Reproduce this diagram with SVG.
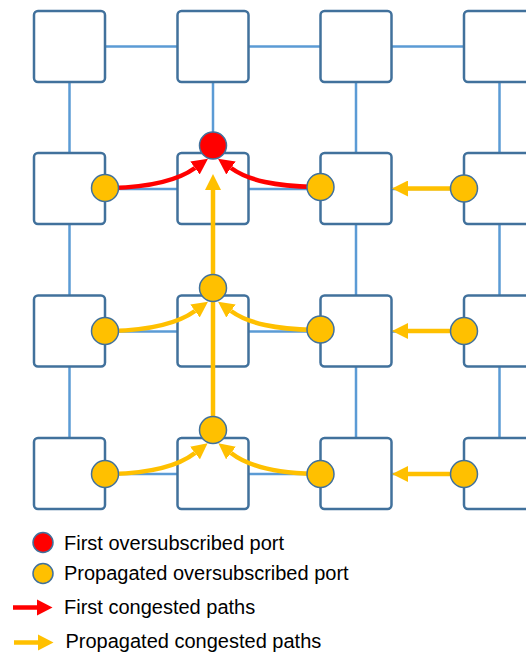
<svg xmlns="http://www.w3.org/2000/svg" width="526" height="654" viewBox="0 0 526 654">
  <style>
    .box { fill: #ffffff; stroke: #41719C; stroke-width: 2.5; }
    .link { stroke: #5B9BD5; stroke-width: 2.5; fill: none; }
    .port-y { fill: #FFC000; stroke: #41719C; stroke-width: 1.5; }
    .port-r { fill: #FF0000; stroke: #41719C; stroke-width: 1.5; }
    .path-r { stroke: #FF0000; stroke-width: 4.5; fill: none; }
    .path-y { stroke: #FFC000; stroke-width: 4.5; fill: none; }
    .head-r { fill: #FF0000; }
    .head-y { fill: #FFC000; }
    .label { font-family: "Liberation Sans", Arial, sans-serif; font-size: 20px; fill: #000000; }
  </style>
  <defs>
    <marker id="arrow-r" markerUnits="userSpaceOnUse" viewBox="0 0 16 16" refX="0" refY="8" markerWidth="16" markerHeight="16" orient="auto">
      <path class="head-r" d="M0,0 L16,8 L0,16 Z"/>
    </marker>
    <marker id="arrow-y" markerUnits="userSpaceOnUse" viewBox="0 0 16 16" refX="0" refY="8" markerWidth="16" markerHeight="16" orient="auto">
      <path class="head-y" d="M0,0 L16,8 L0,16 Z"/>
    </marker>
  </defs>

  <!-- mesh links -->
  <g id="links">
    <line class="link" x1="105" y1="46.5" x2="178" y2="46.5"/>
    <line class="link" x1="248" y1="46.5" x2="321" y2="46.5"/>
    <line class="link" x1="391" y1="46.5" x2="465" y2="46.5"/>
    <line class="link" x1="105" y1="189" x2="178" y2="189"/>
    <line class="link" x1="248" y1="189" x2="321" y2="189"/>
    <line class="link" x1="391" y1="189" x2="465" y2="189"/>
    <line class="link" x1="105" y1="331.5" x2="178" y2="331.5"/>
    <line class="link" x1="248" y1="331.5" x2="321" y2="331.5"/>
    <line class="link" x1="391" y1="331.5" x2="465" y2="331.5"/>
    <line class="link" x1="105" y1="474" x2="178" y2="474"/>
    <line class="link" x1="248" y1="474" x2="321" y2="474"/>
    <line class="link" x1="391" y1="474" x2="465" y2="474"/>
    <line class="link" x1="69.5" y1="82" x2="69.5" y2="154"/>
    <line class="link" x1="213" y1="82" x2="213" y2="154"/>
    <line class="link" x1="356" y1="82" x2="356" y2="154"/>
    <line class="link" x1="499.5" y1="82" x2="499.5" y2="154"/>
    <line class="link" x1="69.5" y1="224" x2="69.5" y2="296"/>
    <line class="link" x1="213" y1="224" x2="213" y2="296"/>
    <line class="link" x1="356" y1="224" x2="356" y2="296"/>
    <line class="link" x1="499.5" y1="224" x2="499.5" y2="296"/>
    <line class="link" x1="69.5" y1="367" x2="69.5" y2="439"/>
    <line class="link" x1="213" y1="367" x2="213" y2="439"/>
    <line class="link" x1="356" y1="367" x2="356" y2="439"/>
    <line class="link" x1="499.5" y1="367" x2="499.5" y2="439"/>
  </g>

  <!-- switches -->
  <g id="sw-1-1"><rect class="box" x="34" y="11" width="71" height="71" rx="4"/></g>
  <g id="sw-1-2"><rect class="box" x="177.5" y="11" width="71" height="71" rx="4"/></g>
  <g id="sw-1-3"><rect class="box" x="320.5" y="11" width="71" height="71" rx="4"/></g>
  <g id="sw-1-4"><rect class="box" x="464" y="11" width="71" height="71" rx="4"/></g>
  <g id="sw-2-1"><rect class="box" x="34" y="153" width="71" height="71" rx="4"/></g>
  <g id="sw-2-2"><rect class="box" x="177.5" y="153" width="71" height="71" rx="4"/></g>
  <g id="sw-2-3"><rect class="box" x="320.5" y="153" width="71" height="71" rx="4"/></g>
  <g id="sw-2-4"><rect class="box" x="464" y="153" width="71" height="71" rx="4"/></g>
  <g id="sw-3-1"><rect class="box" x="34" y="295.5" width="71" height="71" rx="4"/></g>
  <g id="sw-3-2"><rect class="box" x="177.5" y="295.5" width="71" height="71" rx="4"/></g>
  <g id="sw-3-3"><rect class="box" x="320.5" y="295.5" width="71" height="71" rx="4"/></g>
  <g id="sw-3-4"><rect class="box" x="464" y="295.5" width="71" height="71" rx="4"/></g>
  <g id="sw-4-1"><rect class="box" x="34" y="438" width="71" height="71" rx="4"/></g>
  <g id="sw-4-2"><rect class="box" x="177.5" y="438" width="71" height="71" rx="4"/></g>
  <g id="sw-4-3"><rect class="box" x="320.5" y="438" width="71" height="71" rx="4"/></g>
  <g id="sw-4-4"><rect class="box" x="464" y="438" width="71" height="71" rx="4"/></g>

  <!-- congestion paths -->
  <g id="congestion-paths">
    <!-- first congested paths (red) -->
    <path class="path-r" d="M112,188 C150,187 177,181 195,168" marker-end="url(#arrow-r)"/>
    <path class="path-r" d="M314,187 C276,186 249,181 231,168" marker-end="url(#arrow-r)"/>
    <!-- propagated paths (yellow) -->
    <path class="path-y" d="M213,424 L213,190" marker-end="url(#arrow-y)"/>
    <path class="path-y" d="M112,331 C150,330 177,324 195,311" marker-end="url(#arrow-y)"/>
    <path class="path-y" d="M314,330 C276,329 249,324 231,311" marker-end="url(#arrow-y)"/>
    <path class="path-y" d="M112,474 C150,473 177,467 195,453" marker-end="url(#arrow-y)"/>
    <path class="path-y" d="M314,474 C276,473 249,467 231,453" marker-end="url(#arrow-y)"/>
    <path class="path-y" d="M455,188.5 L408,188.5" marker-end="url(#arrow-y)"/>
    <path class="path-y" d="M455,331 L408,331" marker-end="url(#arrow-y)"/>
    <path class="path-y" d="M455,474 L408,474" marker-end="url(#arrow-y)"/>
  </g>

  <!-- ports -->
  <g id="port-first"><circle class="port-r" cx="213" cy="145.5" r="13.5"/></g>
  <g id="port-2-1"><circle class="port-y" cx="105" cy="188" r="13.5"/></g>
  <g id="port-2-3"><circle class="port-y" cx="320.5" cy="187" r="13.5"/></g>
  <g id="port-2-4"><circle class="port-y" cx="464" cy="188.5" r="13.5"/></g>
  <g id="port-3-2"><circle class="port-y" cx="213" cy="288" r="13.5"/></g>
  <g id="port-3-1"><circle class="port-y" cx="105" cy="331" r="13.5"/></g>
  <g id="port-3-3"><circle class="port-y" cx="320.5" cy="329.5" r="13.5"/></g>
  <g id="port-3-4"><circle class="port-y" cx="464" cy="331" r="13.5"/></g>
  <g id="port-4-2"><circle class="port-y" cx="213" cy="430" r="13.5"/></g>
  <g id="port-4-1"><circle class="port-y" cx="105" cy="474" r="13.5"/></g>
  <g id="port-4-3"><circle class="port-y" cx="320.5" cy="474" r="13.5"/></g>
  <g id="port-4-4"><circle class="port-y" cx="464" cy="474" r="13.5"/></g>

  <!-- legend -->
  <g id="legend">
    <circle class="port-r" cx="43" cy="542.5" r="10"/>
    <text class="label" x="64" y="549.5">First oversubscribed port</text>
    <circle class="port-y" cx="43" cy="573.5" r="10"/>
    <text class="label" x="64" y="579.5">Propagated oversubscribed port</text>
    <line class="path-r" stroke-width="5" x1="13" y1="607.5" x2="38" y2="607.5"/>
    <path class="head-r" d="M37,599.5 L52.5,607.5 L37,615.5 Z"/>
    <text class="label" x="64" y="613.5">First congested paths</text>
    <line class="path-y" stroke-width="5" x1="14" y1="642.5" x2="39" y2="642.5"/>
    <path class="head-y" d="M38,634.5 L53.5,642.5 L38,650.5 Z"/>
    <text class="label" x="65.5" y="648">Propagated congested paths</text>
  </g>
</svg>
